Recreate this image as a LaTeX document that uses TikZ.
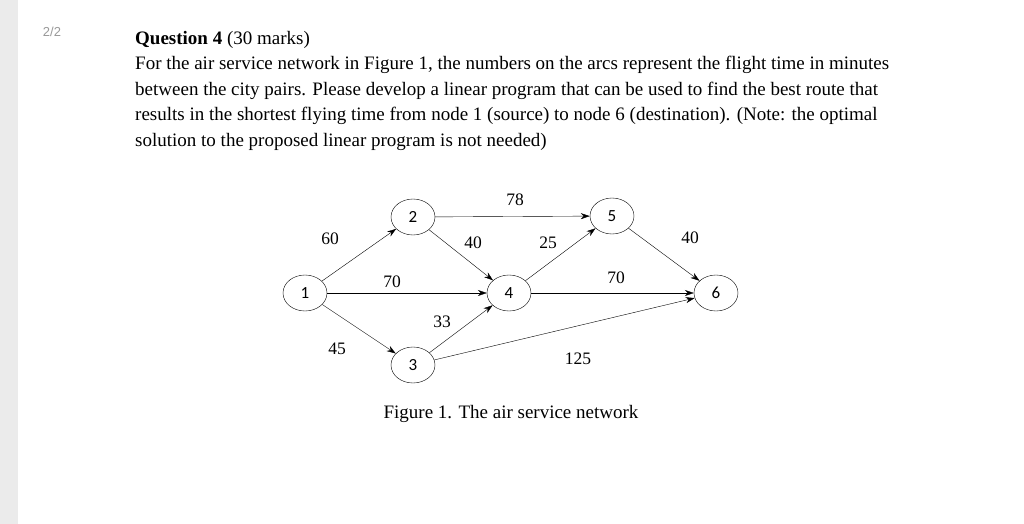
\documentclass[tikz,border=0pt]{standalone}
\usepackage{fontspec}
\setmainfont{Liberation Serif}
\newfontfamily\numfont{Carlito}
\newfontfamily\pagefont{Liberation Sans}
\usetikzlibrary{arrows.meta,shapes.geometric}
\begin{document}
\begin{tikzpicture}[x=1pt,y=-1pt, citynode/.style={ellipse, draw=black, fill=white, thin, minimum width=44pt, minimum height=36pt, inner sep=0pt, font=\numfont\fontsize{17}{17}\selectfont},
 flight/.style={-{Stealth[length=9pt,width=6pt]}, black, thin},
 timelabel/.style={font=\fontsize{17.5}{17.5}\selectfont}, ]
                \useasboundingbox (0,0) rectangle (1024,524);
                \fill[white] (0,0) rectangle (1024,524);
                \fill[black!8] (0,0) rectangle (18,524);
                \node[text=black!40, font=\pagefont\fontsize{13}{13}\selectfont] (page) at (52,32) {2/2};

                \node[anchor=north west, align=left, inner sep=0pt, font=\fontsize{19}{25.5}\selectfont] (question) at (135,31)
                {\textbf{Question 4} (30 marks)\\
                For the air service network in Figure 1, the numbers on the arcs represent the flight time in minutes\\
                between the city pairs. Please develop a linear program that can be used to find the best route that\\
                results in the shortest flying time from node 1 (source) to node 6 (destination). (Note: the optimal\\
                solution to the proposed linear program is not needed)};

                \node[citynode] (1) at (305,293) {1};
                \node[citynode] (2) at (413,217) {2};
                \node[citynode] (3) at (413,365) {3};
                \node[citynode] (4) at (509,293) {4};
                \node[citynode] (5) at (612,216) {5};
                \node[citynode] (6) at (716,293) {6};

                \path [flight](1) edge (2)
                                  edge (4)
                                  edge (3)
                              (2) edge (5)
                                  edge (4)
                              (3) edge (4)
                                  edge (6)
                              (4) edge (5)
                                  edge (6)
                              (5) edge (6);

                \node[timelabel] (t25) at (515,200) {78};
                \node[timelabel] (t12) at (330,239) {60};
                \node[timelabel] (t24) at (473,243) {40};
                \node[timelabel] (t45) at (548,243) {25};
                \node[timelabel] (t56) at (690,238) {40};
                \node[timelabel] (t14) at (392,282) {70};
                \node[timelabel] (t46) at (616,278) {70};
                \node[timelabel] (t34) at (442,322) {33};
                \node[timelabel] (t13) at (337,349) {45};
                \node[timelabel] (t36) at (578,359) {125};
                \node[font=\fontsize{19}{19}\selectfont] (caption) at (511,414) {Figure 1. The air service network};
\end{tikzpicture}
\end{document}
